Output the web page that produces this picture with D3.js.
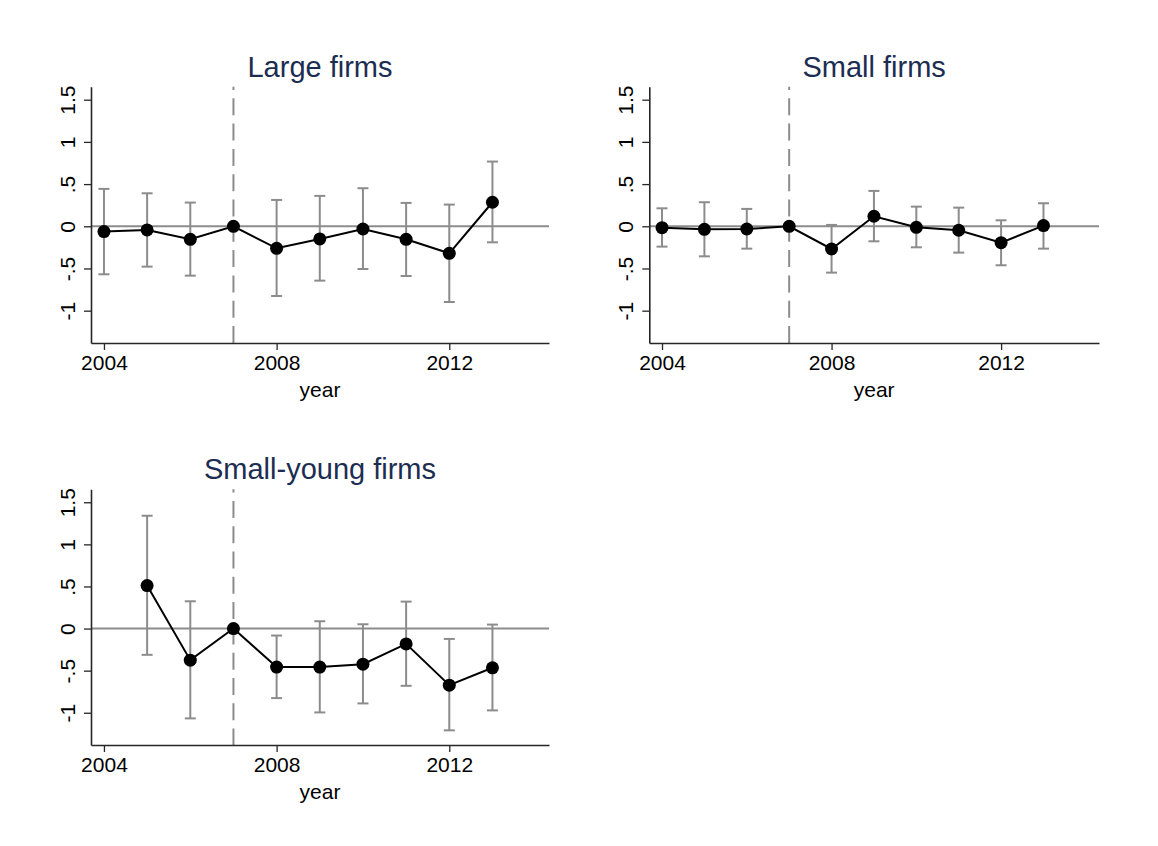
<!DOCTYPE html>
<html>
<head>
<meta charset="utf-8">
<script src="https://cdn.jsdelivr.net/npm/d3@7/dist/d3.min.js"></script>
<style>
  html, body { margin: 0; padding: 0; background: #fff; }
  svg { display: block; font-family: Arial, "Liberation Sans", sans-serif; }
</style>
</head>
<body>
<svg id="chart" width="1158" height="846"></svg>
<script>
// Event-study coefficients with 95% confidence bands, by firm group.
const years = [2004, 2005, 2006, 2007, 2008, 2009, 2010, 2011, 2012, 2013];

const largeCoef = [-0.063, -0.043, -0.154, 0, -0.261, -0.150, -0.032, -0.154, -0.320, 0.285];
const largeLo   = [-0.569, -0.478, -0.585, null, -0.826, -0.644, -0.506, -0.589, -0.897, -0.190];
const largeHi   = [ 0.443,  0.391,  0.281, null,  0.312,  0.360,  0.451,  0.277,  0.257,  0.767];

const smallCoef = [-0.016, -0.036, -0.032, 0, -0.269, 0.119, -0.012, -0.047, -0.194, 0.008];
const smallLo   = [-0.241, -0.356, -0.265, null, -0.549, -0.178, -0.249, -0.312, -0.462, -0.265];
const smallHi   = [ 0.213,  0.285,  0.206, null,  0.016,  0.419,  0.233,  0.221,  0.071,  0.273];

const youngCoef = [null,  0.510, -0.375, 0, -0.458, -0.458, -0.423, -0.182, -0.672, -0.466];
const youngLo   = [null, -0.312, -1.067, null, -0.826, -0.996, -0.889, -0.680, -1.209, -0.972];
const youngHi   = [null,  1.340,  0.324, null, -0.083,  0.087,  0.051,  0.320, -0.123,  0.047];

const xTicks = [2004, 2008, 2012];
const yTicks = [-1, -0.5, 0, 0.5, 1, 1.5];
const yTickLabels = ["-1", "-.5", "0", ".5", "1", "1.5"];
const treatYear = 2007;

const panels = [
  { title: "Large firms",       coef: largeCoef, lo: largeLo, hi: largeHi, box: { left: 91,    right: 549,  top: 86.7,  bottom: 343 } },
  { title: "Small firms",       coef: smallCoef, lo: smallLo, hi: smallHi, box: { left: 649.3, right: 1099, top: 86.7,  bottom: 343 } },
  { title: "Small-young firms", coef: youngCoef, lo: youngLo, hi: youngHi, box: { left: 91,    right: 549,  top: 489.3, bottom: 745 } }
];

const xDomain = [2003.7, 2014.31];
const yDomain = [-1.383, 1.654];

const axisColor = "#262626";
const barColor = "#8c8c8c";
const titleColor = "#1c2d52";

const svg = d3.select("#chart");

panels.forEach(p => {
  const b = p.box;
  const x = d3.scaleLinear().domain(xDomain).range([b.left, b.right]);
  const y = d3.scaleLinear().domain(yDomain).range([b.bottom, b.top]);
  const g = svg.append("g");

  // reference line at zero
  g.append("line")
    .attr("x1", b.left).attr("x2", b.right)
    .attr("y1", y(0)).attr("y2", y(0))
    .attr("stroke", barColor).attr("stroke-width", 2);

  // policy year marker
  g.append("line")
    .attr("x1", x(treatYear)).attr("x2", x(treatYear))
    .attr("y1", b.top).attr("y2", b.bottom)
    .attr("stroke", barColor).attr("stroke-width", 2)
    .attr("stroke-dasharray", "17,8.3")
    .attr("stroke-dashoffset", 13.7);

  const rows = years.map((yr, i) => ({ yr, c: p.coef[i], lo: p.lo[i], hi: p.hi[i] }));
  const bars = rows.filter(d => d.lo !== null && d.hi !== null);
  const pts = rows.filter(d => d.c !== null);

  // confidence intervals
  const eb = g.append("g").attr("stroke", barColor).attr("stroke-width", 2);
  eb.selectAll("line.v").data(bars).join("line")
    .attr("x1", d => x(d.yr)).attr("x2", d => x(d.yr))
    .attr("y1", d => y(d.lo)).attr("y2", d => y(d.hi));
  eb.selectAll("line.top").data(bars).join("line")
    .attr("x1", d => x(d.yr) - 5.5).attr("x2", d => x(d.yr) + 5.5)
    .attr("y1", d => y(d.hi)).attr("y2", d => y(d.hi));
  eb.selectAll("line.bot").data(bars).join("line")
    .attr("x1", d => x(d.yr) - 5.5).attr("x2", d => x(d.yr) + 5.5)
    .attr("y1", d => y(d.lo)).attr("y2", d => y(d.lo));

  // point estimates
  g.append("path")
    .datum(pts)
    .attr("fill", "none").attr("stroke", "#000").attr("stroke-width", 2)
    .attr("d", d3.line().x(d => x(d.yr)).y(d => y(d.c)));
  g.selectAll("circle").data(pts).join("circle")
    .attr("cx", d => x(d.yr)).attr("cy", d => y(d.c)).attr("r", 6.5)
    .attr("fill", "#000");

  // axes
  const yAxis = g.append("g")
    .attr("transform", `translate(${b.left},0)`)
    .call(d3.axisLeft(y).tickValues(yTicks).tickSize(7).tickSizeOuter(0)
      .tickFormat((d, i) => yTickLabels[i]));
  yAxis.select(".domain").attr("stroke", axisColor).attr("stroke-width", 1.6);
  yAxis.selectAll(".tick line").attr("stroke", axisColor).attr("stroke-width", 1.3);
  yAxis.selectAll(".tick text")
    .attr("x", null).attr("dy", null)
    .attr("transform", "translate(-16,0) rotate(-90)")
    .attr("text-anchor", "middle")
    .attr("fill", "#000")
    .style("font-size", "21px")
    .style("font-family", "Arial, 'Liberation Sans', sans-serif");

  const xAxis = g.append("g")
    .attr("transform", `translate(0,${b.bottom})`)
    .call(d3.axisBottom(x).tickValues(xTicks).tickSize(7).tickSizeOuter(0)
      .tickFormat(d3.format("d")));
  xAxis.select(".domain").attr("stroke", axisColor).attr("stroke-width", 1.6);
  xAxis.selectAll(".tick line").attr("stroke", axisColor).attr("stroke-width", 1.3);
  xAxis.selectAll(".tick text")
    .attr("y", 27).attr("dy", null)
    .attr("fill", "#000")
    .style("font-size", "21px")
    .style("font-family", "Arial, 'Liberation Sans', sans-serif");

  // axis title
  g.append("text")
    .attr("x", (b.left + b.right) / 2).attr("y", b.bottom + 54)
    .attr("text-anchor", "middle")
    .attr("fill", "#000")
    .style("font-size", "21px")
    .text("year");

  // panel title
  g.append("text")
    .attr("x", (b.left + b.right) / 2).attr("y", b.top - 10)
    .attr("text-anchor", "middle")
    .attr("fill", titleColor)
    .style("font-size", "29px")
    .text(p.title);
});
</script>
</body>
</html>
